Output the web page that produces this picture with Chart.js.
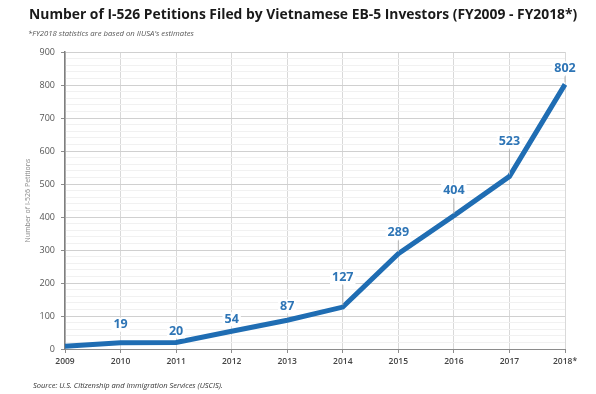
<!DOCTYPE html>
<html>
<head>
<meta charset="utf-8">
<script src="https://cdn.jsdelivr.net/npm/chart.js@4"></script>
<style>
  body { margin: 0; background: #fff; }
  #wrap { position: relative; width: 596px; height: 394px; font-family: "Open Sans", sans-serif; }
  #chart { position: absolute; left: 0; top: 0; }
  #title { position: absolute; left: 29px; top: 4px; font-weight: bold; font-size: 16px; color: #1a1a1a; white-space: nowrap; }
  #note { position: absolute; left: 28px; top: 28px; font-style: italic; font-size: 8px; color: #555; white-space: nowrap; }
  #source { position: absolute; left: 33px; top: 380px; font-style: italic; font-size: 8.5px; color: #333; white-space: nowrap; }
</style>
</head>
<body>
<div id="wrap">
  <canvas id="chart" width="596" height="394"></canvas>
  <div id="title">Number of I-526 Petitions Filed by Vietnamese EB-5 Investors (FY2009 - FY2018*)</div>
  <div id="note">*FY2018 statistics are based on IIUSA's estimates</div>
  <div id="source">Source: U.S. Citizenship and Immigration Services (USCIS).</div>
</div>
<script>
// data
const years = ['2009', '2010', '2011', '2012', '2013', '2014', '2015', '2016', '2017', '2018*'];
const petitions = [8, 19, 20, 54, 87, 127, 289, 404, 523, 802];
const shownLabels = ['', '19', '20', '54', '87', '127', '289', '404', '523', '802'];

// fit title to the width it has in the picture
const title = document.getElementById('title');
title.style.fontSize = (16 * 549 / title.offsetWidth) + 'px';
const note = document.getElementById('note');
note.style.fontSize = (8 * 166 / note.offsetWidth) + 'px';
const src = document.getElementById('source');
src.style.fontSize = (8.5 * 190 / src.offsetWidth) + 'px';

// labels above points, some with a small leader line
const labelPlugin = {
    id: 'pointLabels',
    afterDatasetsDraw(chart) {
        const ctx = chart.ctx;
        const meta = chart.getDatasetMeta(0);
        const lift = [0, 18, 11, 12, 14, 30, 21, 25, 35, 16];
        ctx.save();
        ctx.font = 'bold 12.5px "Open Sans"';
        ctx.textAlign = 'center';
        ctx.textBaseline = 'middle';
        meta.data.forEach((pt, i) => {
            const txt = shownLabels[i];
            if (!txt) return;
            const ly = pt.y - lift[i];
            if (i >= 5) {
                ctx.strokeStyle = '#b5b5b5';
                ctx.lineWidth = 1;
                ctx.beginPath();
                ctx.moveTo(pt.x, ly + 8);
                ctx.lineTo(pt.x, pt.y - 2);
                ctx.stroke();
            }
            const w = ctx.measureText(txt).width;
            ctx.fillStyle = '#fff';
            ctx.fillRect(pt.x - w / 2 - 2, ly - 7, w + 4, 14);
            ctx.fillStyle = '#2e75b6';
            ctx.fillText(txt, pt.x, ly);
        });
        ctx.restore();
    }
};

new Chart(document.getElementById('chart'), {
    type: 'line',
    data: {
        labels: years,
        datasets: [{
            data: petitions,
            borderColor: '#1f6db3',
            borderWidth: 5,
            pointRadius: 0,
            tension: 0,
            fill: false
        }]
    },
    plugins: [labelPlugin],
    options: {
        responsive: false,
        animation: false,
        layout: { padding: { top: 52, right: 31, left: 0, bottom: 0 } },
        plugins: { legend: { display: false }, tooltip: { enabled: false } },
        scales: {
            x: {
                offset: false,
                afterFit: s => { s.height = 45; },
                border: { color: '#8c8c8c', width: 1 },
                grid: { color: '#d9d9d9', tickColor: '#8c8c8c', tickLength: 4, drawOnChartArea: true },
                ticks: { color: '#444', font: { family: 'Open Sans', size: 8.5, weight: '600' }, padding: 3, maxRotation: 0, autoSkip: false }
            },
            y: {
                min: 0,
                max: 900,
                afterFit: s => { s.width = 65; },
                border: { color: '#7f7f7f', width: 1.5 },
                grid: {
                    color: c => c.tick && c.tick.value % 100 === 0 ? '#d0d0d0' : '#f1f1f1',
                    tickColor: c => c.tick && c.tick.value % 100 === 0 ? '#8c8c8c' : 'rgba(0,0,0,0)',
                    tickLength: 4
                },
                ticks: {
                    stepSize: 20,
                    autoSkip: false,
                    color: '#555',
                    font: { family: 'Open Sans', size: 9 },
                    padding: 6,
                    callback: v => v % 100 === 0 ? v : ''
                },
                title: {
                    display: true,
                    text: 'Number of I-526 Petitions',
                    color: '#8a8a8a',
                    font: { family: 'Open Sans', size: 7 },
                    padding: { top: 24, bottom: 0 }
                }
            }
        }
    }
});
</script>
</body>
</html>
